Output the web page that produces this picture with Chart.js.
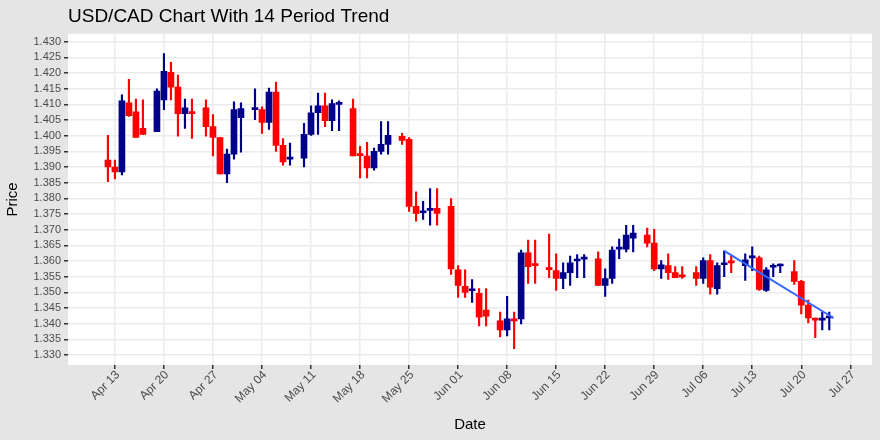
<!DOCTYPE html>
<html>
<head>
<meta charset="utf-8">
<script src="https://cdn.jsdelivr.net/npm/chart.js@4"></script>
<style>
  body { margin: 0; background: #e5e5e5; }
  #wrap { width: 880px; height: 440px; }
</style>
</head>
<body>
<div id="wrap"><canvas id="myChart" width="880" height="440"></canvas></div>
<script>
// day offset from Apr 13
const days = [-1,0,1,2,3,4,6,7,8,9,10,11,13,14,15,16,17,18,20,21,22,23,24,25,27,28,29,30,31,32,
  34,35,36,37,38,39,41,42,43,44,45,46,48,49,50,51,52,53,55,56,57,58,59,60,62,63,64,65,66,67,
  69,70,71,72,73,74,76,77,78,79,80,81,83,84,85,86,87,88,90,91,92,93,94,95,97,98,99,100,101,102];
const opens = [1.3922,1.3900,1.3884,1.4105,1.4076,1.4023,1.4013,1.4114,1.4202,1.4155,1.4070,1.4076,
  1.4089,1.4029,1.3994,1.3878,1.3941,1.4057,1.4083,1.4083,1.4042,1.4139,1.3969,1.3925,
  1.3928,1.4004,1.4073,1.4095,1.4048,1.4100,1.4086,1.3938,1.3935,1.3897,1.3950,1.3972,
  1.3998,1.3988,1.3774,1.3754,1.3761,1.3768,1.3774,1.3572,1.3519,1.3505,1.3497,1.3443,
  1.3409,1.3380,1.3415,1.3415,1.3626,1.3591,1.3579,1.3569,1.3544,1.3563,1.3600,1.3606,
  1.3607,1.3522,1.3544,1.3638,1.3638,1.3673,1.3683,1.3657,1.3575,1.3585,1.3563,1.3551,
  1.3563,1.3544,1.3601,1.3512,1.3588,1.3596,1.3585,1.3610,1.3610,1.3506,1.3580,1.3584,
  1.3566,1.3535,1.3459,1.3413,1.3411,1.3418];
const closes = [1.3900,1.3884,1.4111,1.4064,1.3994,1.4004,1.4142,1.4205,1.4155,1.4070,1.4089,1.4070,
  1.4029,1.3994,1.3878,1.3941,1.4083,1.4086,1.4086,1.4042,1.4139,1.3969,1.3916,1.3928,
  1.4004,1.4073,1.4095,1.4048,1.4102,1.4102,1.3935,1.3936,1.3897,1.3950,1.3972,1.4001,
  1.3985,1.3774,1.3752,1.3756,1.3768,1.3752,1.3575,1.3522,1.3500,1.3507,1.3421,1.3424,
  1.3380,1.3415,1.3409,1.3626,1.3582,1.3585,1.3572,1.3544,1.3563,1.3594,1.3602,1.3608,
  1.3522,1.3544,1.3635,1.3640,1.3683,1.3689,1.3657,1.3575,1.3588,1.3563,1.3547,1.3549,
  1.3544,1.3601,1.3516,1.3585,1.3590,1.3594,1.3604,1.3612,1.3509,1.3572,1.3582,1.3586,
  1.3535,1.3459,1.3418,1.3411,1.3413,1.3420];
const highs = [1.4001,1.3922,1.4130,1.4180,1.4117,1.4114,1.4149,1.4262,1.4234,1.4193,1.4117,1.4117,
  1.4114,1.4067,1.3994,1.3957,1.4108,1.4105,1.4149,1.4092,1.4152,1.4171,1.3991,1.3976,
  1.4039,1.4095,1.4136,1.4136,1.4114,1.4111,1.4117,1.3966,1.3979,1.3960,1.4045,1.4045,
  1.4007,1.3994,1.3821,1.3790,1.3831,1.3831,1.3799,1.3585,1.3572,1.3541,1.3512,1.3512,
  1.3437,1.3487,1.3437,1.3635,1.3667,1.3667,1.3686,1.3623,1.3594,1.3616,1.3620,1.3620,
  1.3629,1.3575,1.3645,1.3670,1.3714,1.3714,1.3705,1.3701,1.3601,1.3623,1.3582,1.3582,
  1.3582,1.3610,1.3620,1.3594,1.3632,1.3616,1.3623,1.3645,1.3616,1.3579,1.3591,1.3591,
  1.3601,1.3538,1.3475,1.3418,1.3437,1.3437];
const lows = [1.3853,1.3862,1.3875,1.4061,1.3994,1.4004,1.4013,1.4083,1.4114,1.3998,1.4023,1.3991,
  1.3998,1.3935,1.3878,1.3850,1.3925,1.3947,1.4051,1.4007,1.4020,1.3950,1.3906,1.3906,
  1.3900,1.4001,1.4004,1.4029,1.4016,1.4016,1.3935,1.3865,1.3865,1.3890,1.3941,1.3941,
  1.3972,1.3758,1.3727,1.3733,1.3714,1.3714,1.3557,1.3484,1.3484,1.3468,1.3393,1.3393,
  1.3358,1.3361,1.3320,1.3399,1.3528,1.3528,1.3547,1.3506,1.3512,1.3522,1.3547,1.3547,
  1.3522,1.3487,1.3528,1.3607,1.3629,1.3629,1.3645,1.3569,1.3544,1.3541,1.3547,1.3544,
  1.3522,1.3528,1.3494,1.3494,1.3550,1.3563,1.3538,1.3569,1.3506,1.3503,1.3550,1.3563,
  1.3525,1.3431,1.3402,1.3355,1.3380,1.3380];
// 14 period trend endpoints
const trendDays = [87, 102.6];
const trendValues = [1.3632, 1.3418];

const tickDays = [0,7,14,21,28,35,42,49,56,63,70,77,84,91,98,105];
const tickLabels = ['Apr 13','Apr 20','Apr 27','May 04','May 11','May 18','May 25','Jun 01',
  'Jun 08','Jun 15','Jun 22','Jun 29','Jul 06','Jul 13','Jul 20','Jul 27'];
const priceTicks = [];
for (let i = 0; i <= 20; i++) priceTicks.push(+(1.33 + i * 0.005).toFixed(3));

const upBody = [], downBody = [], upWick = [], downWick = [];
days.forEach(function (d, i) {
  const up = closes[i] >= opens[i];
  const body = { x: d, y: [Math.min(opens[i], closes[i]), Math.max(opens[i], closes[i])] };
  const wick = { x: d, y: [lows[i], highs[i]] };
  if (up) { upBody.push(body); upWick.push(wick); }
  else { downBody.push(body); downWick.push(wick); }
});

const RED = '#ff0000', BLUE = '#00008b';

const panelBg = {
  id: 'panelBg',
  beforeDraw(chart) {
    const a = chart.chartArea, ctx = chart.ctx;
    ctx.save();
    ctx.fillStyle = '#ffffff';
    ctx.fillRect(a.left, a.top, a.right - a.left, a.bottom - a.top);
    ctx.restore();
  }
};

// rotated date labels, ggplot style (end of text just below-left of the tick)
const dateLabels = {
  id: 'dateLabels',
  afterDraw(chart) {
    const ctx = chart.ctx, xs = chart.scales.x, y0 = chart.chartArea.bottom + 8;
    ctx.save();
    ctx.fillStyle = '#4d4d4d';
    ctx.font = '12px "Liberation Sans"';
    ctx.textAlign = 'right';
    ctx.textBaseline = 'middle';
    tickDays.forEach(function (d, i) {
      ctx.save();
      ctx.translate(xs.getPixelForValue(d) + 3, y0);
      ctx.rotate(-Math.PI / 4);
      ctx.fillText(tickLabels[i], 0, 0);
      ctx.restore();
    });
    ctx.restore();
  }
};

const barBase = { grouped: false, order: 1 };

new Chart(document.getElementById('myChart').getContext('2d'), {
  type: 'bar',
  data: {
    datasets: [
      { type: 'line', data: trendDays.map((d, i) => ({ x: d, y: trendValues[i] })),
        borderColor: '#3366ff', borderWidth: 2, pointRadius: 0, order: 0 },
      Object.assign({ data: upWick, backgroundColor: BLUE, barThickness: 1.5 }, barBase, { order: 2 }),
      Object.assign({ data: downWick, backgroundColor: RED, barThickness: 1.5 }, barBase, { order: 2 }),
      Object.assign({ data: upBody, backgroundColor: BLUE, barThickness: 6, minBarLength: 2 }, barBase),
      Object.assign({ data: downBody, backgroundColor: RED, barThickness: 6, minBarLength: 2 }, barBase),
    ],
  },
  plugins: [panelBg, dateLabels],
  options: {
    responsive: false,
    animation: false,
    layout: { padding: { right: 8 } },
    plugins: {
      legend: { display: false },
      tooltip: { enabled: false },
      title: {
        display: true, fullSize: false, text: 'USD/CAD Chart With 14 Period Trend', align: 'start',
        color: '#000', font: { family: 'Liberation Sans', size: 19, weight: 'normal' },
        padding: { top: 5, bottom: 6 },
      },
    },
    scales: {
      x: {
        type: 'linear', min: -6.7, max: 108.1, offset: false,
        afterBuildTicks: s => { s.ticks = tickDays.map(v => ({ value: v })); },
        afterFit: s => { s.height = 75; },
        ticks: { display: false },
        grid: { offset: false, color: '#ebebeb', lineWidth: 1.5, tickColor: '#333', tickLength: 4 },
        border: { display: false },
        title: { display: true, text: 'Date', color: '#000', padding: { top: 0, bottom: 6 },
          font: { family: 'Liberation Sans', size: 15 } },
      },
      y: {
        min: 1.3268, max: 1.4325,
        afterBuildTicks: s => { s.ticks = priceTicks.map(v => ({ value: v })); },
        afterFit: s => { s.width = 68; },
        ticks: { color: '#4d4d4d', font: { family: 'Liberation Sans', size: 11 },
          callback: v => v.toFixed(3) },
        grid: { color: '#ebebeb', lineWidth: 1.5, tickColor: '#333', tickLength: 4 },
        border: { display: false },
        title: { display: true, text: 'Price', color: '#000', padding: { bottom: 2 },
          font: { family: 'Liberation Sans', size: 15 } },
      },
    },
  },
});
</script>
</body>
</html>
